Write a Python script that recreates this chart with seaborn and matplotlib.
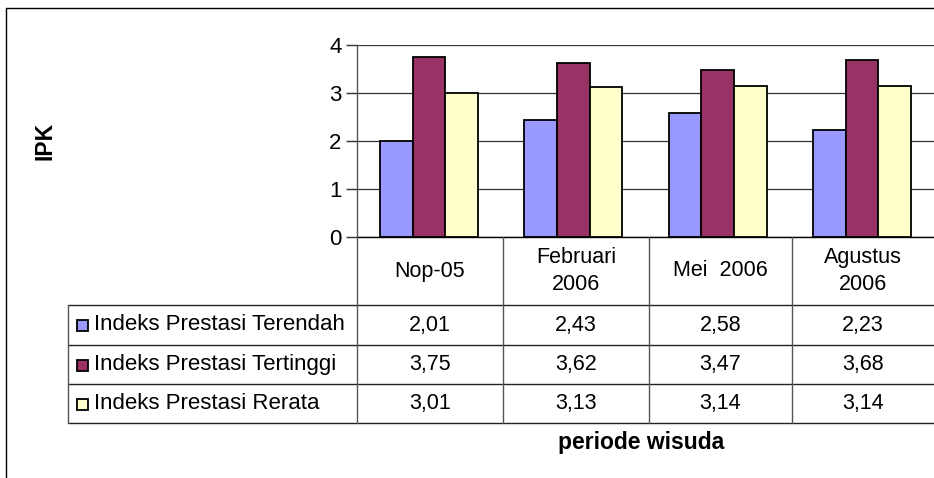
import pandas as pd
import seaborn as sns
import matplotlib.pyplot as plt
from matplotlib.patches import Rectangle
from matplotlib.lines import Line2D

# ------------------------------- data -------------------------------
periode = ['Nop-05', 'Februari\n2006', 'Mei  2006', 'Agustus\n2006']
seri = ['Indeks Prestasi Terendah', 'Indeks Prestasi Tertinggi', 'Indeks Prestasi Rerata']
terendah = [2.01, 2.43, 2.58, 2.23]
tertinggi = [3.75, 3.62, 3.47, 3.68]
rerata = [3.01, 3.13, 3.14, 3.14]
warna = ['#9999FF', '#993366', '#FFFFCC']

df = pd.DataFrame({
    'periode': periode * 3,
    'seri': [s for s in seri for _ in periode],
    'ipk': terendah + tertinggi + rerata,
})

sns.set_style('white')
plt.rcParams['font.family'] = ['Liberation Sans', 'DejaVu Sans']
plt.rcParams['text.color'] = 'black'

W, H = 934, 478
fig = plt.figure(figsize=(W / 100, H / 100), dpi=100)

def fx(x):
    return x / W

def fy(y):
    return 1 - y / H

ax = fig.add_axes([fx(357), fy(237), fx(934) - fx(357), fy(45) - fy(237)])
sns.barplot(data=df, x='periode', y='ipk', hue='seri', palette=warna, saturation=1,
            width=0.68, edgecolor='black', linewidth=1.3, ax=ax, legend=False, zorder=3)
ax.set_xlim(-0.5, 3.5)
ax.set_ylim(0, 4)
ax.set_yticks([0, 1, 2, 3, 4])
ax.yaxis.grid(True, color='#333333', linewidth=0.9)
ax.set_axisbelow(True)
for s in ['top', 'right', 'bottom']:
    ax.spines[s].set_visible(False)
ax.spines['left'].set_color('#555555')
ax.spines['left'].set_linewidth(1)
ax.tick_params(axis='y', direction='out', length=8, width=1, color='#333333',
               labelsize=16, labelcolor='black', pad=3, left=True)
ax.set_xticks([])
ax.set_xlabel('')
ax.set_ylabel('')

# ------------------------------- data table -------------------------------
def garis(x0, y0, x1, y1, c='black', lw=1.0):
    fig.add_artist(Line2D([fx(x0), fx(x1)], [fy(y0), fy(y1)], color=c, lw=lw))

kolom = [357, 503, 649, 792, 934]
baris = [237, 305, 345, 384, 423]
garis(357, 237, 934, 237)
for y in baris[1:]:
    garis(68, y, 934, y, c='#222222')
for x in kolom[:-1]:
    garis(x, 237, x, 423, c='#555555')
garis(68, 305, 68, 423, c='#555555')

for i, p in enumerate(periode):
    cx = (kolom[i] + kolom[i + 1]) / 2
    fig.text(fx(cx), fy((baris[0] + baris[1]) / 2), p, ha='center', va='center',
             fontsize=15.5, linespacing=1.38)

nilai = [terendah, tertinggi, rerata]
for r, s in enumerate(seri):
    cy = (baris[r + 1] + baris[r + 2]) / 2
    fig.add_artist(Rectangle((fx(77), fy(cy + 6)), fx(11), fy(0) - fy(11),
                             facecolor=warna[r], edgecolor='black', lw=1.3))
    fig.text(fx(94), fy(cy), s, ha='left', va='center', fontsize=16)
    for i, v in enumerate(nilai[r]):
        cx = (kolom[i] + kolom[i + 1]) / 2
        fig.text(fx(cx), fy(cy), f'{v:.2f}'.replace('.', ','), ha='center',
                 va='center', fontsize=15.5)

fig.text(fx(641), fy(443), 'periode wisuda', ha='center', va='center',
         fontsize=16.5, fontweight='bold')
fig.text(fx(45), fy(141), 'IPK', ha='center', va='center', rotation=90,
         fontsize=16.5, fontweight='bold')

# chart border
garis(6, 8, 934, 8)
garis(6, 8, 6, 478)

fig.savefig('out.png', dpi=100)
